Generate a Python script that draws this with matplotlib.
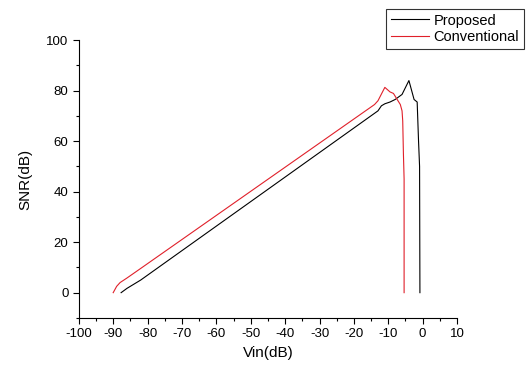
import numpy as np
import matplotlib
matplotlib.use('Agg')
import matplotlib.pyplot as plt
from matplotlib.ticker import MultipleLocator

plt.rcParams['font.family'] = ['Liberation Sans', 'DejaVu Sans']
plt.rcParams['axes.unicode_minus'] = False

# Proposed (black)
prop_vin = [-87.7, -86, -82, -13, -12, -11, -9.5, -8, -6,
            -4, -2.5, -1.6, -1.2, -0.9, -0.8]
prop_snr = [0, 1.7, 5, 72, 74, 74.8, 75.5, 76.5, 78.5,
            84, 76.5, 75.5, 60, 50, 0]

# Conventional (red)
conv_vin = [-90, -89, -88, -86, -82, -14, -13, -11, -9.5,
            -8.5, -6.5, -6, -5.8, -5.6, -5.4, -5.4]
conv_snr = [0, 2.5, 4, 5.8, 9.6, 74.5, 76, 81.3, 79.5,
            78.9, 74.5, 72, 68, 55, 45, 0]

fig = plt.figure(figsize=(5.29, 3.65), dpi=100)
ax = fig.add_axes([0.149, 0.129, 0.715, 0.761])

l1, = ax.plot(prop_vin, prop_snr, color='black', lw=0.8, label='Proposed')
l2, = ax.plot(conv_vin, conv_snr, color='#e0202a', lw=0.8, label='Conventional')

ax.set_xlim(-100, 10)
ax.set_ylim(-10, 100)
ax.xaxis.set_major_locator(MultipleLocator(10))
ax.xaxis.set_minor_locator(MultipleLocator(5))
ax.set_yticks(np.arange(0, 101, 20))
ax.yaxis.set_minor_locator(MultipleLocator(10))
ax.spines['top'].set_visible(False)
ax.spines['right'].set_visible(False)
ax.spines['left'].set_bounds(-10, 100)
ax.tick_params(which='major', direction='out', length=4, width=0.8, labelsize=9.5)
ax.tick_params(which='minor', direction='out', length=2.5, width=0.8)
ax.set_xlabel('Vin(dB)', fontsize=11)
ax.set_ylabel('SNR(dB)', fontsize=11, labelpad=10)

leg = fig.legend(handles=[l1, l2], loc='upper right', bbox_to_anchor=(0.99, 0.975),
                 fontsize=10.5, frameon=True, fancybox=False, handlelength=2.6,
                 borderpad=0.3, labelspacing=0.2, handletextpad=0.35, borderaxespad=0)
leg.get_frame().set_edgecolor('black')
leg.get_frame().set_linewidth(0.8)

fig.savefig('out.png', dpi=100)
